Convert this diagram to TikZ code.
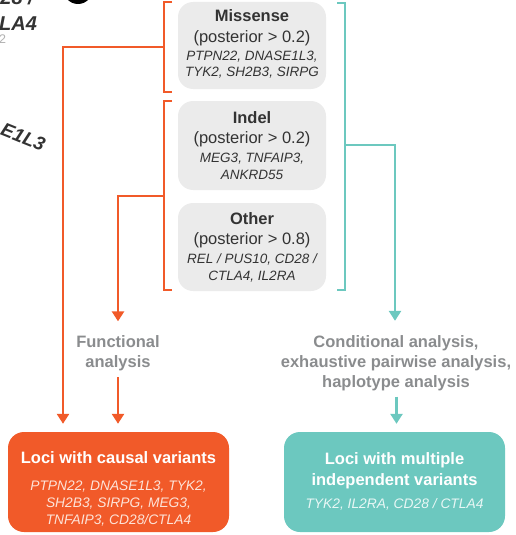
\documentclass[tikz,border=0pt]{standalone}
\usepackage{fontspec}
\setmainfont{Liberation Sans}
\usetikzlibrary{arrows.meta}
\definecolor{orng}{HTML}{F15A29}
\definecolor{teal2}{HTML}{6CC8BF}
\definecolor{boxgray}{HTML}{EBEBEB}
\definecolor{dark}{HTML}{333333}
\definecolor{midgray}{HTML}{8A8C8E}
\definecolor{lightgray}{HTML}{B0B0B0}
\definecolor{paleor}{HTML}{FDE3D8}
\definecolor{paletl}{HTML}{E8F7F5}
\begin{document}
\begin{tikzpicture}[x=1pt,y=-1pt,
  gbox/.style={draw=none,fill=boxgray,rounded corners=15pt,minimum width=148pt,inner sep=0pt},
  rbox/.style={draw=none,rounded corners=16pt,minimum width=221pt,minimum height=100pt,inner sep=0pt},
  ttl/.style={font=\fontsize{16.5}{20}\selectfont\bfseries,text=dark,inner sep=0pt,anchor=base},
  post/.style={font=\fontsize{16.5}{20}\selectfont,text=dark,inner sep=0pt,anchor=base},
  gene/.style={font=\fontsize{13.5}{16}\selectfont\itshape,text=dark,inner sep=0pt,anchor=base},
  wttl/.style={font=\fontsize{16.5}{20}\selectfont\bfseries,text=white,inner sep=0pt,anchor=base},
  wgene/.style={font=\fontsize{13.8}{16}\selectfont\itshape,inner sep=0pt,anchor=base},
  glab/.style={font=\fontsize{16.5}{20}\selectfont\bfseries,text=midgray,inner sep=0pt,anchor=base},
  oline/.style={draw=orng,line width=2.6pt},
  tline/.style={draw=teal2,line width=2.6pt},
  otip/.style={oline,-{Triangle[width=12pt,length=10pt]}},
  ttip/.style={tline,-{Triangle[width=12pt,length=10pt]}},
  partial/.style={font=\fontsize{20}{24}\selectfont\bfseries\itshape,text=dark,inner sep=0pt}
]
\useasboundingbox (0,0) rectangle (516,535);
\clip (0,0) rectangle (516,535);

% partial elements at top-left
\fill[black] (78,-10.5) circle (14.5pt);
\node[partial,anchor=base east] (p1) at (34,5) {28 /};
\node[partial,anchor=base west] (p2) at (-1,30.5) {LA4};
\node[font=\fontsize{12.5}{14}\selectfont,text=lightgray,inner sep=0pt,anchor=base west] (p3) at (-1,43.5) {2};
\node[font=\fontsize{19}{22}\selectfont\bfseries\itshape,text=dark,inner sep=0pt,rotate=-22,anchor=base east] (p4) at (42,152) {E1L3};

% gray boxes
\node[gbox,minimum height=87pt] (mis) at (252,45.5) {};
\node[gbox,minimum height=89pt] (ind) at (252,145.5) {};
\node[gbox,minimum height=88pt] (oth) at (252,247) {};

\node[ttl] (misT) at (252,22) {Missense};
\node[post] (misP) at (252,43) {(posterior > 0.2)};
\node[gene] (misG1) at (252,60) {PTPN22, DNASE1L3,};
\node[gene] (misG2) at (252,76) {TYK2, SH2B3, SIRPG};

\node[ttl] (indT) at (252,123) {Indel};
\node[post] (indP) at (252,143) {(posterior > 0.2)};
\node[gene] (indG1) at (252,162) {MEG3, TNFAIP3,};
\node[gene] (indG2) at (252,179) {ANKRD55};

\node[ttl] (othT) at (252,224) {Other};
\node[post] (othP) at (252,244) {(posterior > 0.8)};
\node[gene] (othG1) at (252,263) {REL / PUS10, CD28 /};
\node[gene] (othG2) at (252,280) {CTLA4, IL2RA};

% result boxes
\node[rbox,fill=orng] (causal) at (118.5,482) {};
\node[wttl] (causalT) at (118.5,463) {Loci with causal variants};
\node[wgene,text=paleor] (causalG1) at (118.5,490) {PTPN22, DNASE1L3, TYK2,};
\node[wgene,text=paleor] (causalG2) at (118.5,507.5) {SH2B3, SIRPG, MEG3,};
\node[wgene,text=paleor] (causalG3) at (118.5,524.5) {TNFAIP3, CD28/CTLA4};

\node[rbox,fill=teal2] (multi) at (394.5,482) {};
\node[wttl] (multiT1) at (394.5,464) {Loci with multiple};
\node[wttl] (multiT2) at (394.5,485) {independent variants};
\node[wgene,text=paletl] (multiG) at (394.5,508) {TYK2, IL2RA, CD28 / CTLA4};

% analysis labels
\node[glab] (func1) at (118,347.5) {Functional};
\node[glab] (func2) at (118,367.5) {analysis};
\node[glab] (cond1) at (396,347) {Conditional analysis,};
\node[glab] (cond2) at (396,367) {exhaustive pairwise analysis,};
\node[glab] (cond3) at (396,387) {haplotype analysis};

% brackets
\coordinate (bM) at (164,47);
\coordinate (bIO) at (164,196);
\coordinate (bT) at (345,145);
\draw[oline] (172,2) -- (164,2) -- (164,92) -- (172,92);
\draw[oline] (172,101) -- (164,101) -- (164,290) -- (172,290);
\draw[tline] (337,3) -- (345,3) -- (345,290) -- (337,290);

% connectors
\draw[otip,shorten >=8pt] (bM) -| ([xshift=-55.5pt]causal.north);
\draw[otip,shorten >=14pt] (bIO) -| (func1.north);
\draw[otip,shorten <=6pt,shorten >=8pt] (func2.south) -- (func2.south |- causal.north);
\draw[ttip,shorten >=14pt] (bT) -| ([xshift=-1pt]cond1.north);
\draw[ttip,shorten <=6pt,shorten >=8pt] ([xshift=0.5pt]cond3.south) -- ([xshift=0.5pt]cond3.south |- multi.north);
\end{tikzpicture}
\end{document}
